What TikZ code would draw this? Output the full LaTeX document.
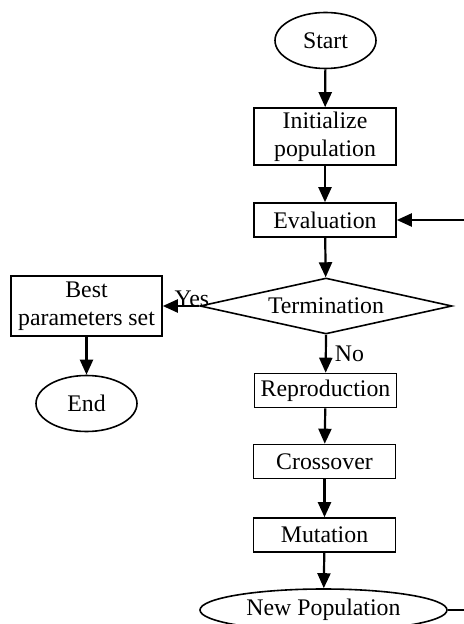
\documentclass[tikz,border=0pt]{standalone}
\usepackage{fontspec}
\setmainfont{Liberation Serif}
\usetikzlibrary{shapes.geometric, arrows.meta, positioning, calc}

\begin{document}
\begin{tikzpicture}[x=0.5pt, y=-0.5pt,
    every node/.style={font=\fontsize{11.9}{14}\selectfont, inner sep=0pt},
    procbox/.style={draw, line width=0.8pt, rectangle, minimum width=71pt, minimum height=17pt, align=center},
    termbox/.style={draw, line width=0.8pt, ellipse, minimum width=50.5pt, minimum height=28pt},
    decbox/.style={draw, line width=0.8pt, diamond, aspect=4.5, minimum width=126pt, minimum height=28pt},
    flow/.style={line width=1.1pt, -{Triangle[length=7.5pt, width=6.5pt]}}]
    \useasboundingbox (0,0) rectangle (463,624);

    % Main column
    \node[termbox] (start) at (325.5, 40.5) {Start};
    \node[procbox, minimum height=28.5pt] (init) at (325, 136.5) {Initialize\\population};
    \node[procbox] (eval) at (325, 220) {Evaluation};
    \node[decbox] (term) at (326, 306) {Termination};
    \node[procbox] (repro) at (325.5, 390.5) {Reproduction};
    \node[procbox] (cross) at (324.5, 461.5) {Crossover};
    \node[procbox] (mut) at (324.5, 535) {Mutation};
    \node[termbox, minimum width=123.5pt, minimum height=21pt] (newpop) at (323.5, 610) {New Population};

    % Left branch
    \node[procbox, minimum width=75.5pt, minimum height=30pt] (best) at (86.5, 306) {Best\\parameters set};
    \node[termbox] (end) at (86.5, 403.5) {End};

    % Loop back (its vertical part lies just past the right edge)
    \coordinate (back) at (468, 0);

    % Connectors
    \draw[flow] (start) -- (init);
    \draw[flow] (init) -- (eval);
    \draw[flow] (eval) -- (term);
    \draw[flow] (term.south) -- node[anchor=west, xshift=4pt] {No} (repro);
    \draw[flow] (repro) -- (cross);
    \draw[flow] (cross) -- (mut);
    \draw[flow] (mut) -- (newpop);
    \draw[flow] (term.west) -- node[anchor=south, pos=0.2, yshift=-1pt] {Yes} (best.east);
    \draw[flow] (best) -- (end);
    \draw[flow] (newpop.east) -| (back |- eval.east) -- (eval.east);

\end{tikzpicture}
\end{document}
